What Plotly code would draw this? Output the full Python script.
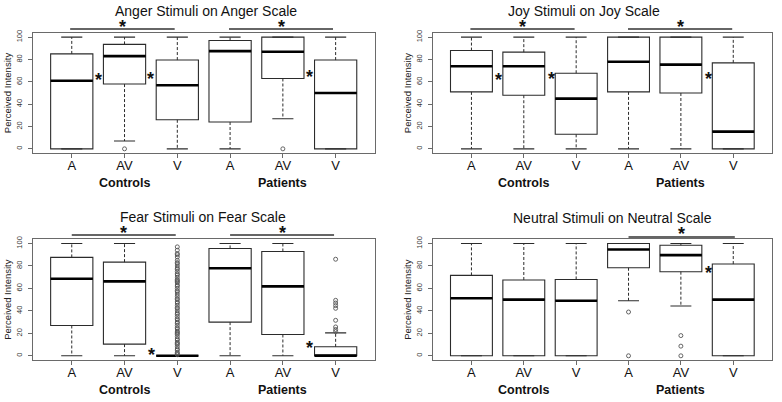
import plotly.graph_objects as go

W, H = 782, 402

# ---------------- data ----------------
positions = [1, 2, 3, 4, 5, 6]
tick_labels = ["A", "AV", "V", "A", "AV", "V"]
group_labels = ["Controls", "Patients"]
group_pos = [2, 5]
panel_titles = ["Anger Stimuli on Anger Scale", "Joy Stimuli on Joy Scale",
                "Fear Stimuli on Fear Scale", "Neutral Stimuli on Neutral Scale"]

# Anger
anger_lo = [0, 7, 0, 0, 27, 0]
anger_q1 = [0, 58, 26, 24, 63, 0]
anger_med = [61, 83, 57, 87.5, 87, 50]
anger_q3 = [85, 93.5, 79.5, 97, 100, 79.5]
anger_hi = [100, 100, 100, 100, 100, 100]
anger_out_x = [2, 5]
anger_out_y = [0, 0]

# Joy
joy_lo = [0, 0, 0, 0, 0, 0]
joy_q1 = [51, 48, 13, 51, 50, 0]
joy_med = [74, 74, 45, 78, 75.4, 15.4]
joy_q3 = [88, 86.6, 67.7, 100, 100, 77]
joy_hi = [100, 100, 100, 100, 100, 100]
joy_out_x = []
joy_out_y = []

# Fear
fear_lo = [0, 0, 0, 0, 0, 0]
fear_q1 = [27, 10.4, 0, 30, 19, 0]
fear_med = [68.6, 66.3, 0, 78, 61.8, 0]
fear_q3 = [87.6, 83.4, 0, 95.6, 92.9, 8]
fear_hi = [100, 100, 0, 100, 100, 20.4]
fear_ctrl_v_out = [1, 2, 3, 5, 6, 8, 10, 11, 12, 14, 15, 17, 19, 20, 21, 22, 24, 25,
                   27, 29, 30, 32, 33, 35, 37, 38, 40, 42, 43, 45, 47, 48, 50, 51, 53,
                   55, 57, 58, 60, 62, 63, 65, 66, 67, 68, 70, 72, 73, 75, 77, 78, 80,
                   82, 83, 85, 88, 90, 91, 94, 97]
fear_pat_v_out = [21.6, 23.4, 25.7, 31.6, 42.3, 44.7, 47, 49.4, 86]
fear_out_x = [3] * len(fear_ctrl_v_out) + [6] * len(fear_pat_v_out)
fear_out_y = fear_ctrl_v_out + fear_pat_v_out

# Neutral
neutral_lo = [0, 0, 0, 49, 44.4, 0]
neutral_q1 = [0, 0, 0, 78.4, 74.9, 0]
neutral_med = [51.2, 50, 49, 94.7, 89.6, 50]
neutral_q3 = [71.6, 67.5, 68, 100, 98.5, 81.7]
neutral_hi = [100, 100, 100, 100, 100, 100]
neutral_out_x = [4, 4, 5, 5, 5]
neutral_out_y = [39, 0, 18, 8.6, 0]

# significance stars between boxes (x position, y value)
anger_stars = [(1.5, 65), (2.5, 66), (5.5, 68)]
joy_stars = [(1.51, 65), (2.52, 66), (5.52, 66)]
fear_stars = [(2.52, 4.7), (5.51, 10.6)]
neutral_stars = [(5.52, 77)]
# group comparison bars (x0, x1)
anger_bars = [(0.97, 2.95), (3.98, 5.95)]
joy_bars = [(0.98, 2.97), (3.99, 5.98)]
fear_bars = [(1.0, 2.97), (4.0, 5.97)]
neutral_bars = [(4.0, 6.03)]

panels = [
    dict(lo=anger_lo, q1=anger_q1, med=anger_med, q3=anger_q3, hi=anger_hi,
         ox=anger_out_x, oy=anger_out_y, stars=anger_stars, bars=anger_bars),
    dict(lo=joy_lo, q1=joy_q1, med=joy_med, q3=joy_q3, hi=joy_hi,
         ox=joy_out_x, oy=joy_out_y, stars=joy_stars, bars=joy_bars),
    dict(lo=fear_lo, q1=fear_q1, med=fear_med, q3=fear_q3, hi=fear_hi,
         ox=fear_out_x, oy=fear_out_y, stars=fear_stars, bars=fear_bars),
    dict(lo=neutral_lo, q1=neutral_q1, med=neutral_med, q3=neutral_q3, hi=neutral_hi,
         ox=neutral_out_x, oy=neutral_out_y, stars=neutral_stars, bars=neutral_bars),
]

# ---------------- layout geometry (pixels) ----------------
xdom_px = [(32.7, 374.7), (432.7, 772.0), (32.7, 374.7), (432.7, 772.0)]
ydom_px = [(32.7, 153.3), (32.7, 153.3), (239.0, 360.3), (239.0, 360.3)]
title_px = [(206, 11), (584, 11), (203, 217), (612, 218)]
bar_y = [1.031, 1.031, 1.033, 1.016]
star_top_y = [1.083, 1.083, 1.083, 1.071]

FONT = "Liberation Sans, Arial, sans-serif"
LINE = "#2b2b2b"
FRAME = "#6a6a6a"
STAR_FONT = dict(size=18, color="#111", family=FONT)

fig = go.Figure()
layout = dict(width=W, height=H, margin=dict(l=0, r=0, t=0, b=0),
              paper_bgcolor="white", plot_bgcolor="white", showlegend=False,
              font=dict(family=FONT, color="#111"))
annotations = []
shapes = []

for i, p in enumerate(panels):
    k = "" if i == 0 else str(i + 1)
    xa, ya = "x" + k, "y" + k
    x0, x1 = xdom_px[i]
    yt, yb = ydom_px[i]
    layout["xaxis" + k] = dict(
        domain=[x0 / W, x1 / W], range=[0.26, 6.74], anchor=ya,
        tickmode="array", tickvals=positions, ticktext=tick_labels,
        ticks="outside", ticklen=4, tickcolor=FRAME, showline=True, mirror=True,
        linecolor=FRAME, linewidth=1, showgrid=False, zeroline=False,
        tickfont=dict(size=13, color="#111", family=FONT), ticklabelstandoff=-4,
        automargin=False, fixedrange=True)
    layout["yaxis" + k] = dict(
        domain=[1 - yb / H, 1 - yt / H], range=[-4, 104], anchor=xa,
        tickmode="array", tickvals=[0, 20, 40, 60, 80, 100],
        ticks="outside", ticklen=4, tickcolor=FRAME, showline=True, mirror=True,
        linecolor=FRAME, linewidth=1, showgrid=False, zeroline=False,
        tickangle=-90, tickfont=dict(size=7.5, color="#333", family=FONT),
        ticklabelstandoff=3,
        title=dict(text="Perceived Intensity", font=dict(size=9.5, color="#222"),
                   standoff=1),
        automargin=False, fixedrange=True)

    # boxes
    fig.add_trace(go.Box(
        x=positions, q1=p["q1"], median=p["med"], q3=p["q3"],
        lowerfence=p["q1"], upperfence=p["q3"], width=0.8, whiskerwidth=0,
        fillcolor="white", line=dict(color=LINE, width=1.1), boxpoints=False,
        xaxis=xa, yaxis=ya, hoverinfo="skip"))

    # whiskers (dashed)
    wx, wy = [], []
    for xp, lo, q1, q3, hi in zip(positions, p["lo"], p["q1"], p["q3"], p["hi"]):
        wx += [xp, xp, None, xp, xp, None]
        wy += [q3, hi, None, q1, lo, None]
    fig.add_trace(go.Scatter(x=wx, y=wy, mode="lines", xaxis=xa, yaxis=ya,
                             line=dict(color=LINE, width=1, dash="3px,2px"),
                             hoverinfo="skip"))
    # staples
    cx, cy = [], []
    for xp, lo, hi in zip(positions, p["lo"], p["hi"]):
        cx += [xp - 0.2, xp + 0.2, None, xp - 0.2, xp + 0.2, None]
        cy += [hi, hi, None, lo, lo, None]
    fig.add_trace(go.Scatter(x=cx, y=cy, mode="lines", xaxis=xa, yaxis=ya,
                             line=dict(color=LINE, width=1.1), hoverinfo="skip"))
    # medians (thick)
    mx, my = [], []
    for xp, m in zip(positions, p["med"]):
        mx += [xp - 0.4, xp + 0.4, None]
        my += [m, m, None]
    fig.add_trace(go.Scatter(x=mx, y=my, mode="lines", xaxis=xa, yaxis=ya,
                             line=dict(color="#000", width=2.6), hoverinfo="skip"))
    # outliers
    if p["ox"]:
        fig.add_trace(go.Scatter(x=p["ox"], y=p["oy"], mode="markers", xaxis=xa, yaxis=ya,
                                 marker=dict(symbol="circle-open", size=4,
                                             color="#555", line=dict(width=0.9)),
                                 cliponaxis=False, hoverinfo="skip"))

    # stars between boxes
    for sx, sy in p["stars"]:
        annotations.append(dict(x=sx, y=sy, xref=xa, yref=ya, text="<b>*</b>",
                                showarrow=False, xanchor="center", yanchor="middle",
                                font=STAR_FONT, yshift=-4))
    # bars with stars above the plot
    for bx0, bx1 in p["bars"]:
        shapes.append(dict(type="line", xref=xa, yref=ya + " domain", x0=bx0, x1=bx1,
                           y0=bar_y[i], y1=bar_y[i], line=dict(color="#333", width=1.6)))
        annotations.append(dict(x=(bx0 + bx1) / 2, y=star_top_y[i], xref=xa,
                                yref=ya + " domain", text="<b>*</b>", showarrow=False,
                                xanchor="center", yanchor="middle",
                                font=STAR_FONT, yshift=-4))
    # group labels
    for gl, gp in zip(group_labels, group_pos):
        annotations.append(dict(x=gp, y=1 - (yb + 30) / H, xref=xa, yref="paper",
                                text="<b>" + gl + "</b>", showarrow=False,
                                xanchor="center", yanchor="middle",
                                font=dict(size=12.5, color="#111")))
    # title
    tx, ty = title_px[i]
    annotations.append(dict(x=tx / W, y=1 - ty / H, xref="paper", yref="paper",
                            text=panel_titles[i], showarrow=False,
                            xanchor="center", yanchor="middle",
                            font=dict(size=14, color="#111")))

layout["annotations"] = annotations
layout["shapes"] = shapes
fig.update_layout(**layout)
fig.write_html("out.html", config={"displayModeBar": False},
               post_script="document.body.style.margin='0';document.body.style.overflow='hidden';")
